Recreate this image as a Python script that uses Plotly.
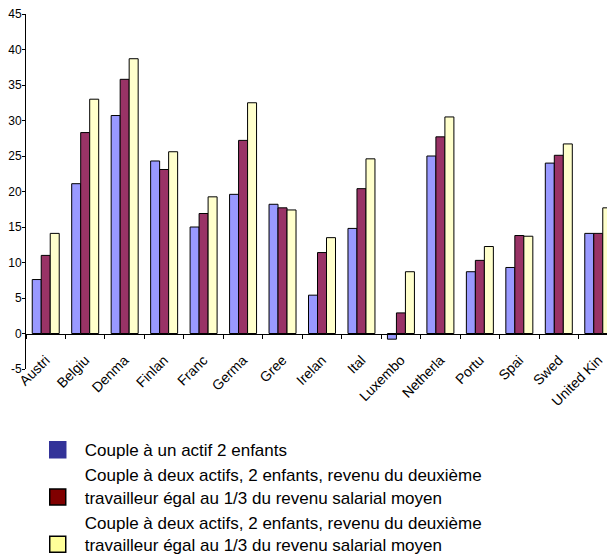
import plotly.graph_objects as go

countries = ["Austria", "Belgium", "Denmark", "Finland", "France", "Germany", "Greece",
             "Ireland", "Italy", "Luxembourg", "Netherlands", "Portugal", "Spain",
             "Sweden", "United Kingdom"]
tick_labels = ["Austri", "Belgiu", "Denma", "Finlan", "Franc", "Germa", "Gree",
               "Irelan", "Ital", "Luxembo", "Netherla", "Portu", "Spai", "Swed", "United Kin"]

series_names = [
    "Couple à un actif 2 enfants",
    "Couple à deux actifs, 2 enfants, revenu du deuxième<br>travailleur égal au 1/3 du revenu salarial moyen",
    "Couple à deux actifs, 2 enfants, revenu du deuxième<br>travailleur égal au 1/3 du revenu salarial moyen",
]
one_earner = [7.6, 21.1, 30.7, 24.3, 15.0, 19.6, 18.2, 5.4, 14.8, -0.8, 25.0, 8.7, 9.3, 24.0, 14.1]
two_earner_a = [11.0, 28.3, 35.8, 23.1, 16.9, 27.2, 17.7, 11.4, 20.4, 2.9, 27.7, 10.3, 13.8, 25.1, 14.1]
two_earner_b = [14.1, 33.0, 38.7, 25.6, 19.25, 32.5, 17.4, 13.5, 24.6, 8.7, 30.5, 12.25, 13.7, 26.7, 17.7]

y_ticks = [-5, 0, 5, 10, 15, 20, 25, 30, 35, 40, 45]

bar_colors = ["#9999FF", "#993366", "#FFFFCC"]
legend_colors = ["#333399", "#800000", "#FFFF99"]
legend_line = ["#333399", "#000000", "#000000"]

FONT = "Liberation Sans, Arial, sans-serif"

fig = go.Figure()
for vals, col in zip([one_earner, two_earner_a, two_earner_b], bar_colors):
    fig.add_trace(go.Bar(x=countries, y=vals, marker=dict(color=col, line=dict(color="#000000", width=1)),
                         showlegend=False))

for name, col, lc in zip(series_names, legend_colors, legend_line):
    fig.add_trace(go.Scatter(x=[None], y=[None], mode="markers", name=name,
                             marker=dict(symbol="square", size=16, color=col, line=dict(color=lc, width=1.5))))

fig.update_layout(
    width=615, height=558,
    margin=dict(l=18, r=5, t=6, b=197, autoexpand=False),
    paper_bgcolor="white", plot_bgcolor="white",
    barmode="group", bargap=0.316, bargroupgap=0,
    font=dict(family=FONT, color="#000000"),
    xaxis=dict(type="category", categoryorder="array", categoryarray=countries,
               tickvals=countries, ticktext=tick_labels,
               range=[-0.5, len(countries) - 0.5],
               anchor="free", position=0.1,
               showline=True, linecolor="#000000", linewidth=1,
               ticks="outside", tickson="boundaries", ticklen=4, tickcolor="#000000",
               tickangle=-45, tickfont=dict(size=14, family=FONT),
               ticklabelstandoff=12, ticklabeloverflow="allow",
               showgrid=False, zeroline=False),
    yaxis=dict(range=[-5, 45], tickvals=y_ticks, ticktext=[str(v) for v in y_ticks],
               showline=True, linecolor="#000000", linewidth=1,
               ticks="outside", ticklen=3, tickcolor="#000000",
               tickfont=dict(size=12, family=FONT),
               ticklabelstandoff=-2, ticklabeloverflow="allow",
               showgrid=False, zeroline=False),
    legend=dict(x=0.008, y=-0.178, xanchor="left", yanchor="top",
                valign="bottom", font=dict(size=17, family=FONT),
                itemwidth=44, tracegroupgap=0, bgcolor="rgba(0,0,0,0)"),
)

fig.write_html("out.html")
